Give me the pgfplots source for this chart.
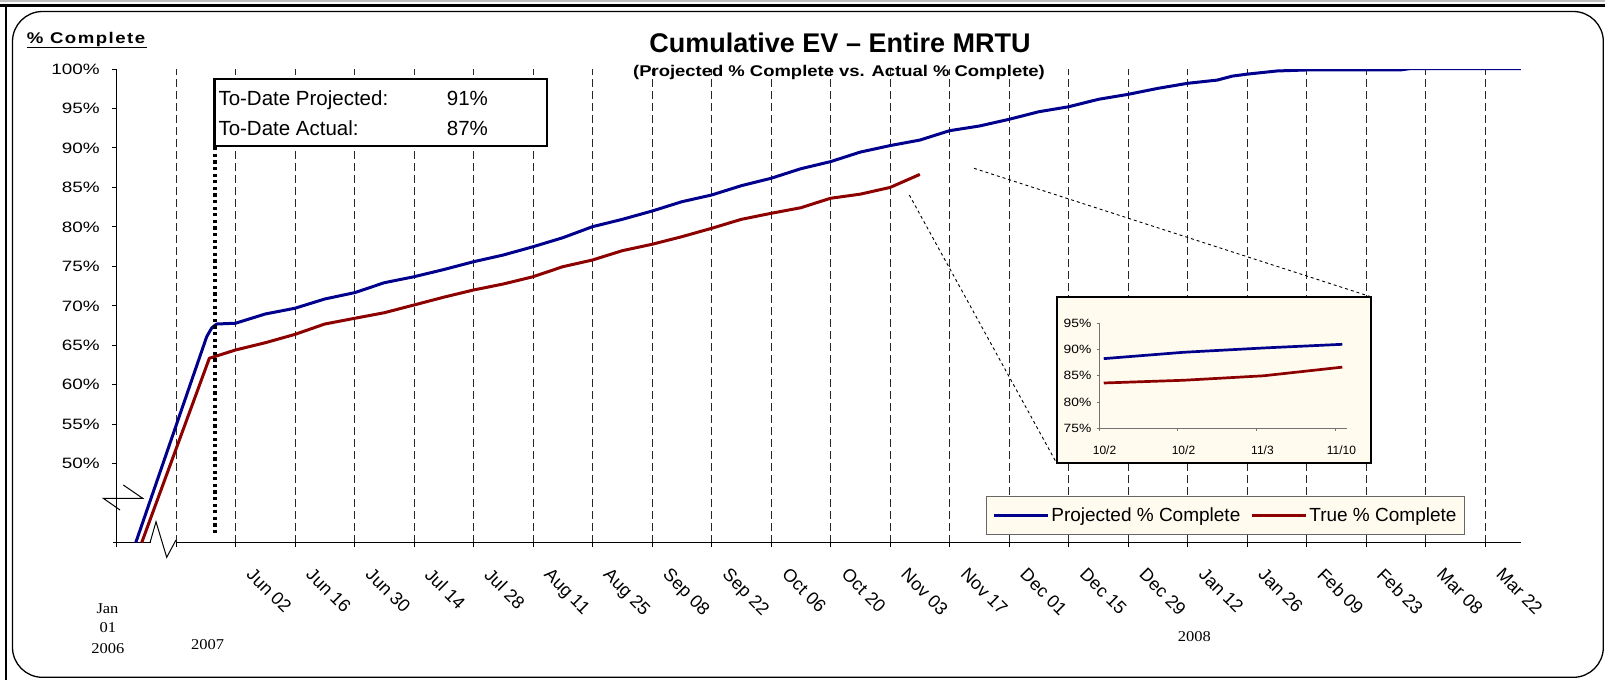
\documentclass[border=0pt]{standalone}
\usepackage{fontspec}
\setmainfont{Liberation Sans}
\newfontfamily\timesfont{Liberation Serif}
\usepackage{graphicx}
\usepackage{pgfplots}
\pgfplotsset{compat=1.18}
\definecolor{projblue}{RGB}{0,0,140}
\definecolor{truered}{RGB}{140,0,0}
\definecolor{cream}{RGB}{255,251,238}
\begin{document}
\begin{tikzpicture}
\useasboundingbox (0pt,0pt) rectangle (1605pt,-680pt);
\fill[white] (0pt,0pt) rectangle (1605pt,-680pt);

\begin{axis}[
  at={(116.5pt,-542.7pt)}, anchor=south west,
  scale only axis, width=1404.4pt, height=473.7pt,
  xmin=-1, xmax=22.6, ymin=40, ymax=100,
  axis x line=bottom, axis y line=left,
  axis line style={-, line width=1pt, black},
  xtick={-1,0,...,22},
  xticklabels={{},{},Jun 02,Jun 16,Jun 30,Jul 14,Jul 28,Aug 11,Aug 25,Sep 08,Sep 22,Oct 06,Oct 20,Nov 03,Nov 17,Dec 01,Dec 15,Dec 29,Jan 12,Jan 26,Feb 09,Feb 23,Mar 08,Mar 22},
  ytick={50,55,...,100},
  /pgf/number format/assume math mode=true,
  yticklabel={\scalebox{1.26}[1]{\pgfmathprintnumber{\tick}\%}},
  yticklabel style={font=\fontsize{15}{18}\selectfont, anchor=east, inner sep=0pt, xshift=-12pt},
  xticklabel style={font=\fontsize{18}{21}\selectfont, inner sep=0pt, anchor=north west, xshift=19pt, yshift=-19.5pt, rotate=-45},
  tick align=outside, major tick length=4.5pt,
  tick style={black, line width=1pt},
  xmajorgrids,
  major x grid style={black!85, line width=1pt, dash pattern=on 7.5pt off 4.5pt},
  legend columns=2,
  legend cell align=left,
  legend style={at={(0.619,0.0986)}, anchor=north west, draw=black!60, line width=1pt, fill=cream, font=\fontsize{19}{22}\selectfont, inner xsep=6pt, inner ysep=9.5pt, /tikz/every even column/.append style={column sep=8pt}},
  legend image code/.code={\draw[#1, line width=3pt] (0pt,0pt) -- (54pt,0pt);},
]
\addplot[projblue, line width=3pt, line join=round] coordinates {
(-0.677,40) (0.516,66.1) (0.60,67.2) (0.684,67.7) (1.0,67.8) (1.5,68.97) (2.0,69.7) (2.5,70.87) (3.0,71.67) (3.5,72.93) (4.0,73.69) (4.5,74.6) (5.0,75.59) (5.5,76.44) (6.0,77.49) (6.5,78.63) (7.0,80.03) (7.5,80.96) (8.0,82.01) (8.5,83.19) (9.0,84.04) (9.5,85.22) (10.0,86.16) (10.5,87.37) (11.0,88.27) (11.5,89.48) (12.0,90.3) (12.5,91.0) (13.0,92.19) (13.5,92.78) (14.0,93.63) (14.5,94.59) (15.0,95.22) (15.5,96.16) (16.0,96.79) (16.5,97.55) (17.0,98.19) (17.5,98.6) (17.75,99.1) (18.0,99.35) (18.5,99.75) (19.0,99.88) (20.0,99.88) (20.57,99.88) (20.74,100.05) (22.6,100.05)
};
\addlegendentry{Projected \% Complete}
\addplot[truered, line width=3pt, line join=round] coordinates {
(-0.577,40) (0.56,63.36) (1.0,64.41) (1.5,65.33) (2.0,66.39) (2.5,67.7) (3.0,68.42) (3.5,69.13) (4.0,70.11) (4.5,71.1) (5.0,72.01) (5.5,72.77) (6.0,73.69) (6.5,74.96) (7.0,75.81) (7.5,76.99) (8.0,77.80) (8.5,78.76) (9.0,79.82) (9.5,80.96) (10.0,81.72) (10.5,82.43) (11.0,83.63) (11.5,84.15) (12.0,85.0) (12.5,86.65)
};
\addlegendentry{True \% Complete}
\addplot[forget plot, black, line width=3.3pt, dash pattern=on 3.3pt off 3.3pt] coordinates {(0.655,41.2) (0.655,90.16)};
\end{axis}

\begin{scope}[x=1pt,y=-1pt]
% to-date box
\draw[line width=2.5pt, fill=white] (214.3,79) rectangle (547,146);
\node[anchor=base west, inner sep=0pt, font=\fontsize{20.5}{24}\selectfont] at (218.3,105) {To-Date Projected:};
\node[anchor=base west, inner sep=0pt, font=\fontsize{20.5}{24}\selectfont] at (446.7,105) {91\%};
\node[anchor=base west, inner sep=0pt, font=\fontsize{20.5}{24}\selectfont] at (218.3,135) {To-Date Actual:};
\node[anchor=base west, inner sep=0pt, font=\fontsize{20.5}{24}\selectfont] at (446.7,135) {87\%};
% connectors
\draw[black, line width=0.9pt, dash pattern=on 3pt off 3pt] (909.3,195) -- (1056.7,463.3);
\draw[black, line width=0.9pt, dash pattern=on 3pt off 3pt] (974,168.3) -- (1370.7,296.7);
% inset background
\draw[line width=1.8pt, fill=cream] (1056.7,296.7) rectangle (1370.7,463.3);
\end{scope}

\begin{axis}[
  at={(1099pt,-428.3pt)}, anchor=south west,
  scale only axis, width=248pt, height=105pt,
  xmin=0, xmax=3.14, ymin=75, ymax=95,
  axis x line=bottom, axis y line=left,
  axis line style={-, line width=1pt, black!55},
  tick style={black!55, line width=1pt},
  tick align=outside, major tick length=2.5pt,
  xtick={0,1,2,3}, xticklabels={10/2,10/2,11/3,11/10},
  ytick={75,80,...,95},
  /pgf/number format/assume math mode=true,
  yticklabel={\scalebox{1.15}[1]{\pgfmathprintnumber{\tick}\%}},
  yticklabel style={font=\fontsize{12}{14}\selectfont, anchor=east, inner sep=0pt, xshift=-5pt},
  xticklabel style={font=\fontsize{12}{14}\selectfont, inner sep=0pt, anchor=north, xshift=5.5pt, yshift=-15pt},
]
\addplot[projblue, line width=2.7pt] coordinates {(0.06,88.27) (1.07,89.48) (2.08,90.3) (3.08,91.0)};
\addplot[truered, line width=2.7pt] coordinates {(0.06,83.63) (1.07,84.15) (2.08,85.0) (3.08,86.65)};
\end{axis}

\begin{scope}[x=1pt,y=-1pt]
% axis breaks
\draw[line width=1pt] (112.5,542.7) -- (116.5,542.7);
\fill[white] (150.5,539) rectangle (175.5,546);
\draw[line width=1pt, line join=miter] (150,542.7) -- (156,521.7) -- (166.7,557.3) -- (176,540);
\draw[line width=1pt] (123.3,485) -- (142.7,498.3) -- (103.3,498.3) -- (120,510);
% titles
\node[anchor=base, inner sep=0pt, font=\fontsize{27}{32}\selectfont\bfseries] at (840,52.3) {Cumulative EV – Entire MRTU};
\node[anchor=base, inner sep=0pt, font=\fontsize{15.5}{18}\selectfont\bfseries] at (839,76.5) {\scalebox{1.19}[1]{(Projected \% Complete vs. Actual \% Complete)}};
\node[anchor=base west, inner sep=0pt, font=\fontsize{15.5}{18}\selectfont\bfseries] at (26.7,43.3) {\scalebox{1.2}[1]{\addfontfeature{LetterSpace=8}\% Complete}};
\draw[line width=1.3pt] (26.7,47.5) -- (146.7,47.5);
% year labels
\node[inner sep=0pt, font=\timesfont\fontsize{15}{18}\selectfont] at (107.5,608.3) {\scalebox{1.1}[1]{Jan}};
\node[inner sep=0pt, font=\timesfont\fontsize{15}{18}\selectfont] at (107.9,627.7) {\scalebox{1.1}[1]{01}};
\node[inner sep=0pt, font=\timesfont\fontsize{15}{18}\selectfont] at (107.9,648.3) {\scalebox{1.1}[1]{2006}};
\node[inner sep=0pt, font=\timesfont\fontsize{15}{18}\selectfont] at (207.7,645) {\scalebox{1.1}[1]{2007}};
\node[inner sep=0pt, font=\timesfont\fontsize{15}{18}\selectfont] at (1194.3,636.7) {\scalebox{1.1}[1]{2008}};
% frame
\fill[black!25] (0,0) rectangle (1605,2);
\draw[line width=2.2pt] (0,5.5) -- (1605,5.5);
\draw[line width=2.2pt] (6.3,5.5) -- (6.3,680);
\draw[line width=1.3pt, rounded corners=30pt] (12.5,11.5) rectangle (1603.3,677.3);
\end{scope}
\end{tikzpicture}
\end{document}
